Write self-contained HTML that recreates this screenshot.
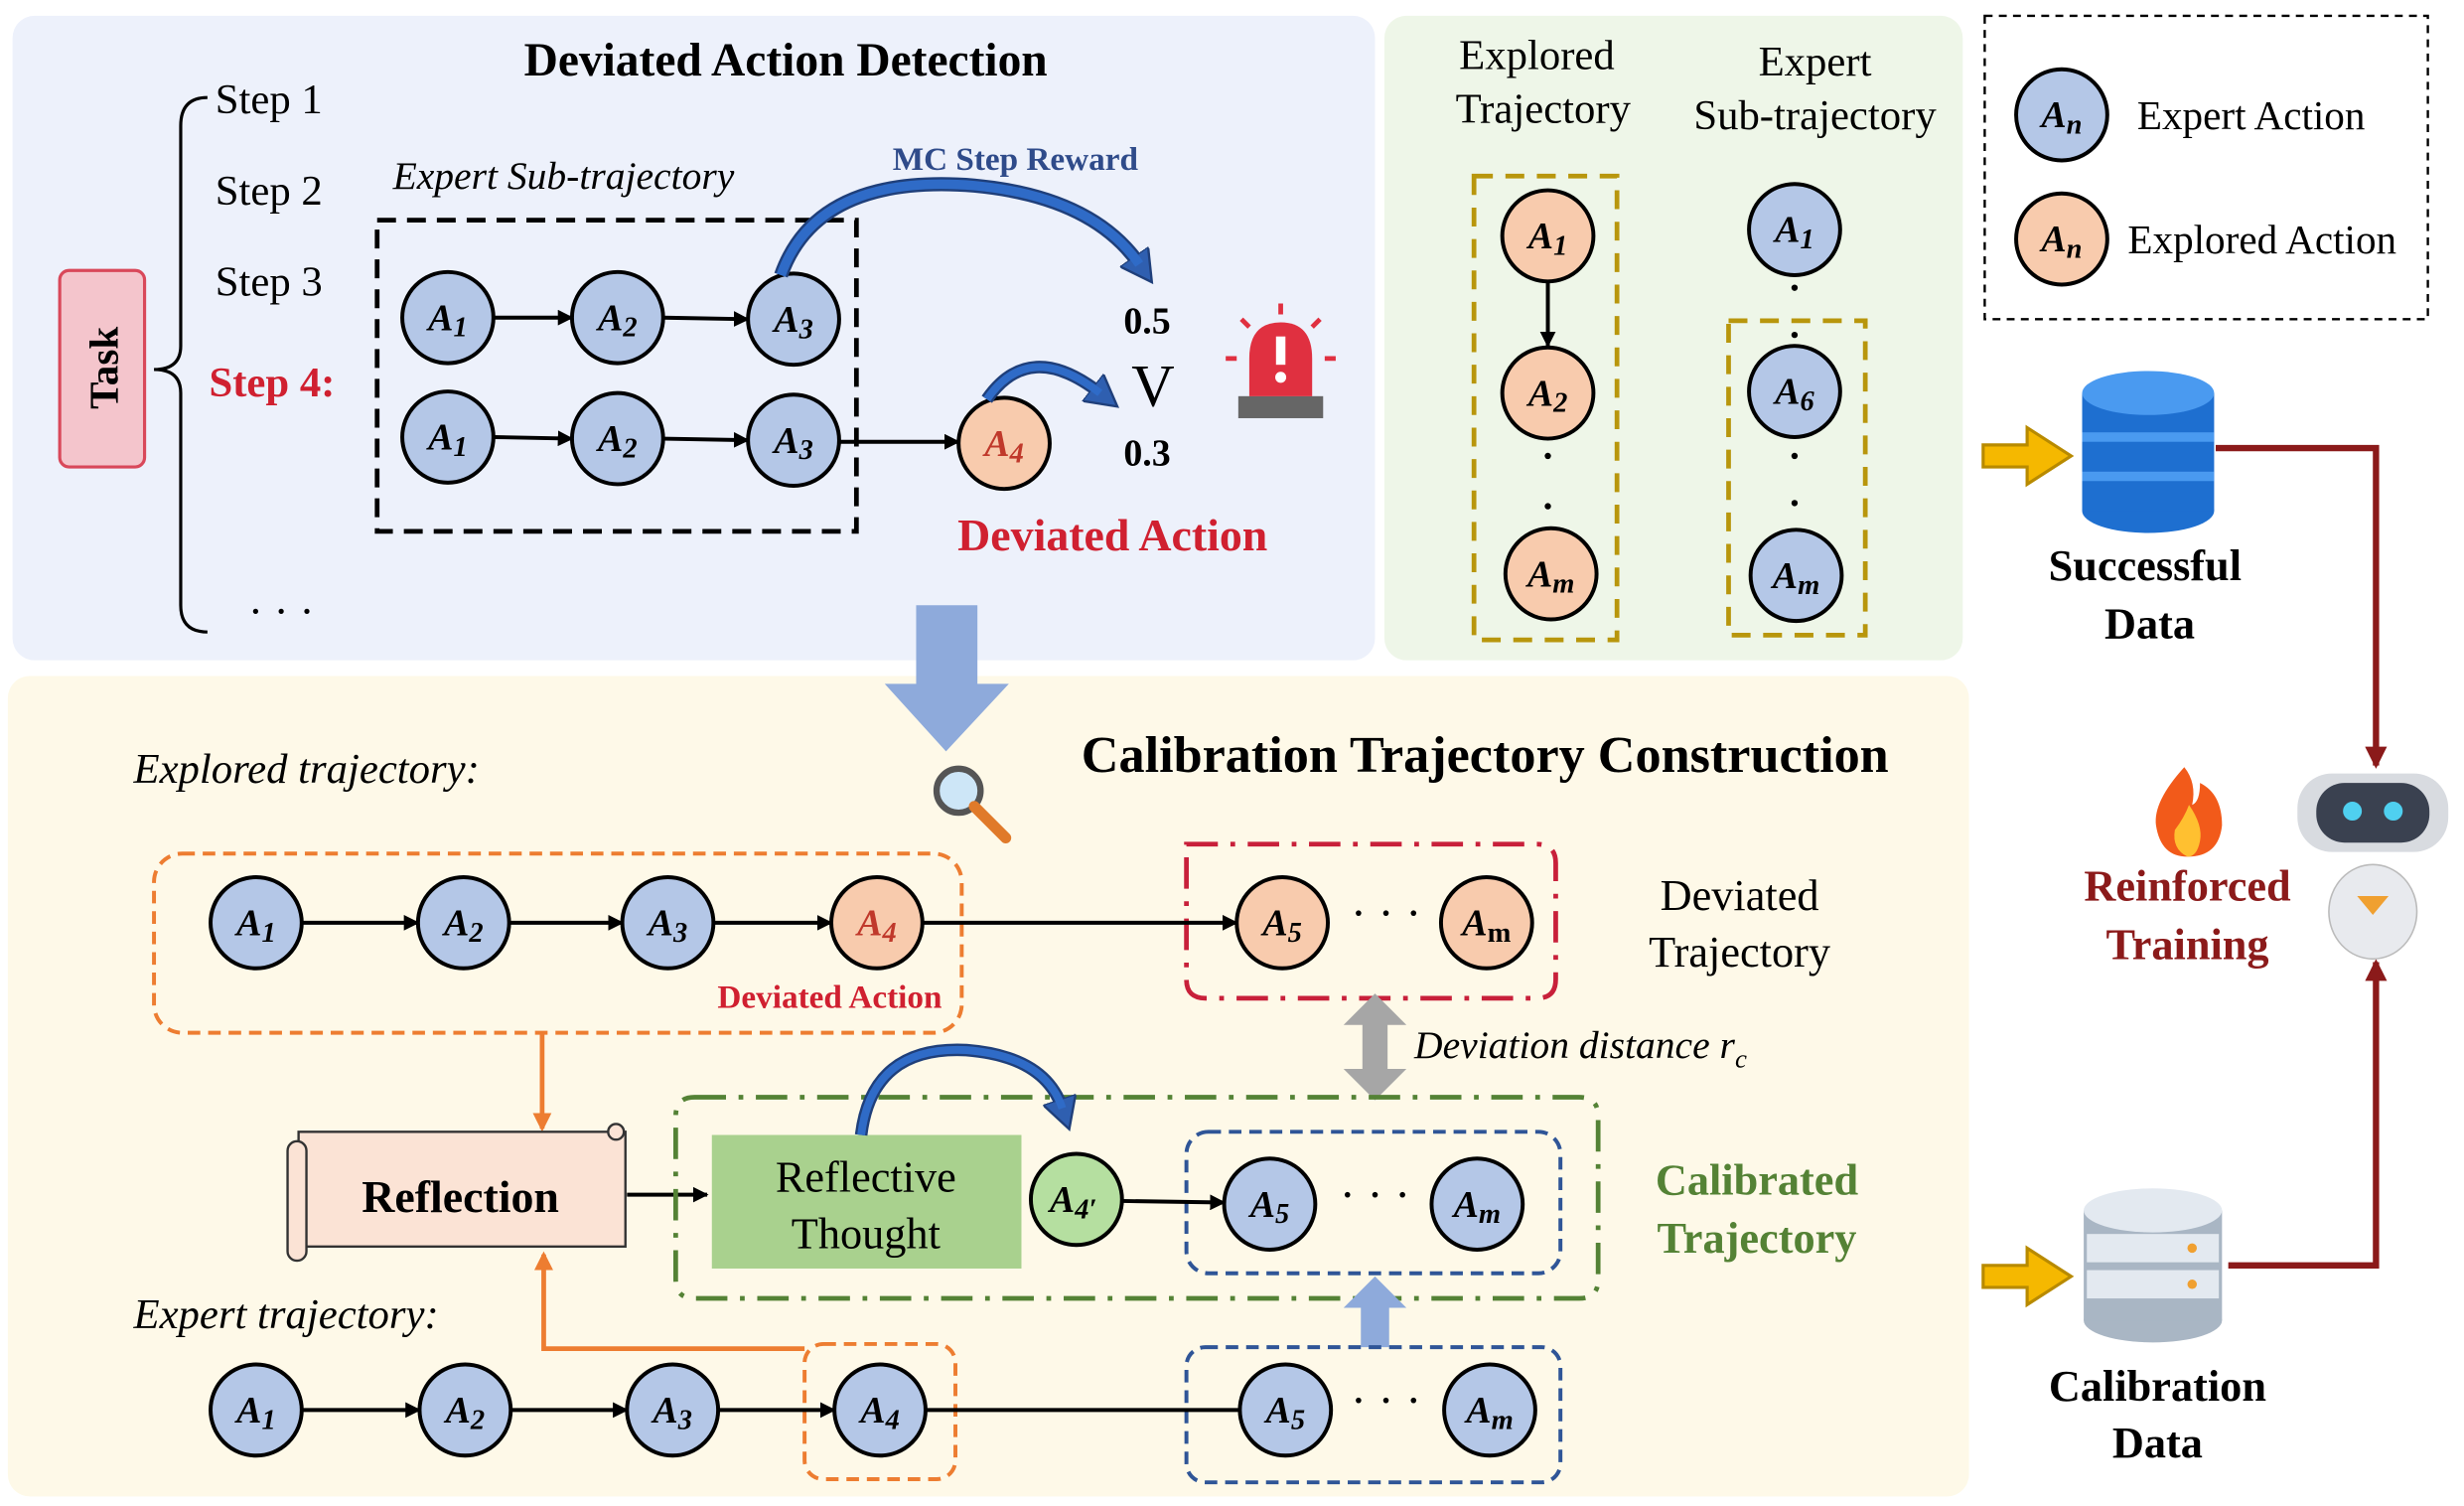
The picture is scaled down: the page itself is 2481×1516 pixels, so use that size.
<!DOCTYPE html>
<html><head><meta charset="utf-8"><style>
html,body{margin:0;padding:0;background:#fff}
svg{display:block}
text{font-family:"Liberation Serif",serif}
.b{fill:#b4c7e7;stroke:#000;stroke-width:2.5}
.o{fill:#f8cbad;stroke:#000;stroke-width:2.5}
.g{fill:#b5dfa0;stroke:#000;stroke-width:2.5}
.n{font-size:24px;font-style:italic;font-weight:bold;text-anchor:middle}
.n tspan{font-size:18px}
.ln{stroke:#000;stroke-width:2.5;fill:none;marker-end:url(#ah)}
</style></head><body>
<svg width="2481" height="1516" viewBox="0 0 1568 958" xmlns="http://www.w3.org/2000/svg">
<defs>
<marker id="ah" markerWidth="10" markerHeight="10" refX="9" refY="5" orient="auto" markerUnits="userSpaceOnUse"><path d="M0,0 L10,5 L0,10 z" fill="#000"/></marker>
<marker id="ahr" markerWidth="14" markerHeight="14" refX="12" refY="7" orient="auto" markerUnits="userSpaceOnUse"><path d="M0,0 L14,7 L0,14 z" fill="#8b1a1a"/></marker>
<marker id="aho" markerWidth="12" markerHeight="12" refX="10" refY="6" orient="auto" markerUnits="userSpaceOnUse"><path d="M0,0 L12,6 L0,12 z" fill="#ed7d31"/></marker>
<marker id="ahb" markerWidth="22" markerHeight="22" refX="6" refY="11" orient="auto" markerUnits="userSpaceOnUse"><path d="M0,0 L20,11 L0,22 z" fill="#2f5fb0" stroke="#1f3f7a" stroke-width="1.5"/></marker>
</defs>
<rect x="8" y="10" width="867" height="410" rx="14" fill="#edf1fb"/>
<rect x="881" y="10" width="368" height="410" rx="14" fill="#eef6e8"/>
<rect x="5" y="430" width="1248" height="522" rx="14" fill="#fef9e8"/>
<rect x="1263" y="10" width="282" height="193" fill="none" stroke="#000" stroke-width="1.5" stroke-dasharray="5,4"/>

<text x="500" y="48" font-size="30" font-weight="bold" text-anchor="middle">Deviated Action Detection</text>
<rect x="38" y="172" width="54" height="125" rx="6" fill="#f4c5cc" stroke="#d9485a" stroke-width="2"/>
<text transform="translate(75,234) rotate(-90)" font-size="26" font-weight="bold" text-anchor="middle">Task</text>
<path d="M132,62 Q115,62 115,80 L115,220 Q115,235 98,235 Q115,235 115,250 L115,385 Q115,402 132,402" fill="none" stroke="#000" stroke-width="2"/>
<text x="137" y="72" font-size="27">Step 1</text>
<text x="137" y="130" font-size="27">Step 2</text>
<text x="137" y="188" font-size="27">Step 3</text>
<text x="133" y="252" font-size="27" font-weight="bold" fill="#d02030">Step 4:</text>
<text x="158" y="398" font-size="28">· · ·</text>
<text x="250" y="120" font-size="25" font-style="italic">Expert Sub-trajectory</text>
<rect x="240" y="140" width="305" height="198" fill="none" stroke="#000" stroke-width="3" stroke-dasharray="12,7"/>
<text x="568" y="108" font-size="21" font-weight="bold" fill="#2f4b8a">MC Step Reward</text>
<line class="ln" x1="314" y1="202" x2="364" y2="202"/><line class="ln" x1="422" y1="202" x2="476" y2="203"/>
<line class="ln" x1="314" y1="278" x2="364" y2="279"/><line class="ln" x1="422" y1="279" x2="476" y2="280"/>
<line class="ln" x1="534" y1="281" x2="610" y2="281"/>
<g class="n">
<circle class="b" cx="285" cy="202" r="29"/><text x="285" y="210">A<tspan dy="4">1</tspan></text>
<circle class="b" cx="393" cy="202" r="29"/><text x="393" y="210">A<tspan dy="4">2</tspan></text>
<circle class="b" cx="505" cy="203" r="29"/><text x="505" y="211">A<tspan dy="4">3</tspan></text>
<circle class="b" cx="285" cy="278" r="29"/><text x="285" y="286">A<tspan dy="4">1</tspan></text>
<circle class="b" cx="393" cy="279" r="29"/><text x="393" y="287">A<tspan dy="4">2</tspan></text>
<circle class="b" cx="505" cy="280" r="29"/><text x="505" y="288">A<tspan dy="4">3</tspan></text>
<circle class="o" cx="639" cy="282" r="29"/><text x="639" y="290" fill="#c0392b">A<tspan dy="4">4</tspan></text>
</g>
<path d="M497,175 Q520,110 620,118 Q695,125 725,168" fill="none" stroke="#1f3f7a" stroke-width="9" marker-end="url(#ahb)"/>
<path d="M497,175 Q520,110 620,118 Q695,125 725,168" fill="none" stroke="#2f6bc7" stroke-width="6"/>
<path d="M628,254 Q655,215 700,250" fill="none" stroke="#1f3f7a" stroke-width="8" marker-end="url(#ahb)"/>
<path d="M628,254 Q655,215 700,250" fill="none" stroke="#2f6bc7" stroke-width="5"/>
<text x="715" y="212" font-size="24" font-weight="bold">0.5</text>
<text x="720" y="258" font-size="38">V</text>
<text x="715" y="296" font-size="24" font-weight="bold">0.3</text>
<rect x="788" y="252" width="54" height="14" fill="#666"/>
<path d="M795,252 L795,228 Q795,205 815,205 Q835,205 835,228 L835,252 Z" fill="#e03040"/>
<rect x="812" y="214" width="6" height="18" fill="#fff"/><circle cx="815" cy="240" r="3.5" fill="#fff"/>
<path d="M815,193 L815,200 M790,203 L795,208 M840,203 L835,208 M780,228 L787,228 M843,228 L850,228" stroke="#e03040" stroke-width="3"/>
<text x="708" y="350" font-size="29" font-weight="bold" text-anchor="middle" fill="#d02030">Deviated Action</text>
<path d="M583,385 L622,385 L622,435 L642,435 L602,478 L563,435 L583,435 Z" fill="#8eaadb"/>
<circle cx="610" cy="503" r="14" fill="#cde6f7" stroke="#555" stroke-width="4"/>
<line x1="620" y1="513" x2="640" y2="533" stroke="#e07a2a" stroke-width="7" stroke-linecap="round"/>

<text x="978" y="44" font-size="27" text-anchor="middle">Explored</text>
<text x="982" y="78" font-size="27" text-anchor="middle">Trajectory</text>
<text x="1155" y="48" font-size="27" text-anchor="middle">Expert</text>
<text x="1155" y="82" font-size="27" text-anchor="middle">Sub-trajectory</text>
<rect x="938" y="112" width="91" height="295" fill="none" stroke="#b8960c" stroke-width="3" stroke-dasharray="12,8"/>
<rect x="1100" y="204" width="87" height="200" fill="none" stroke="#b8960c" stroke-width="3" stroke-dasharray="12,8"/>
<line class="ln" x1="985" y1="179" x2="985" y2="220"/>
<g class="n">
<circle class="o" cx="985" cy="150" r="29"/><text x="985" y="158">A<tspan dy="4">1</tspan></text>
<circle class="o" cx="985" cy="250" r="29"/><text x="985" y="258">A<tspan dy="4">2</tspan></text>
<circle class="o" cx="987" cy="365" r="29"/><text x="987" y="373">A<tspan dy="4">m</tspan></text>
<circle class="b" cx="1142" cy="146" r="29"/><text x="1142" y="154">A<tspan dy="4">1</tspan></text>
<circle class="b" cx="1142" cy="249" r="29"/><text x="1142" y="257">A<tspan dy="4">6</tspan></text>
<circle class="b" cx="1143" cy="366" r="29"/><text x="1143" y="374">A<tspan dy="4">m</tspan></text>
<circle class="b" cx="1312" cy="73" r="29"/><text x="1312" y="81">A<tspan dy="4">n</tspan></text>
<circle class="o" cx="1312" cy="152" r="29"/><text x="1312" y="160">A<tspan dy="4">n</tspan></text>
</g>
<g fill="#000"><circle cx="985" cy="290" r="2"/><circle cx="985" cy="322" r="2"/><circle cx="1142" cy="183" r="2"/><circle cx="1142" cy="213" r="2"/><circle cx="1142" cy="290" r="2"/><circle cx="1142" cy="320" r="2"/></g>
<text x="1360" y="82" font-size="26">Expert Action</text>
<text x="1354" y="161" font-size="26">Explored Action</text>

<path d="M1262,283 L1290,283 L1290,272 L1318,290 L1290,308 L1290,297 L1262,297 Z" fill="#f5b800" stroke="#b88a00" stroke-width="2"/>
<path d="M1262,805 L1290,805 L1290,794 L1318,812 L1290,830 L1290,819 L1262,819 Z" fill="#f5b800" stroke="#b88a00" stroke-width="2"/>
<g fill="#1e6fd0"><ellipse cx="1367" cy="325" rx="42" ry="14"/><rect x="1325" y="250" width="84" height="75"/></g>
<g fill="#4a9af0"><ellipse cx="1367" cy="250" rx="42" ry="14"/><rect x="1325" y="275" width="84" height="6"/><rect x="1325" y="300" width="84" height="6"/></g>
<g fill="#a9b6c4"><ellipse cx="1370" cy="840" rx="44" ry="14"/><rect x="1326" y="770" width="88" height="70"/></g>
<g fill="#e3e9f0"><ellipse cx="1370" cy="770" rx="44" ry="14"/><rect x="1328" y="785" width="84" height="18"/><rect x="1328" y="808" width="84" height="18"/></g>
<g fill="#f0a030"><circle cx="1395" cy="794" r="3"/><circle cx="1395" cy="817" r="3"/></g>
<text x="1365" y="369" font-size="28" font-weight="bold" text-anchor="middle">Successful</text>
<text x="1368" y="406" font-size="28" font-weight="bold" text-anchor="middle">Data</text>
<text x="1373" y="891" font-size="28" font-weight="bold" text-anchor="middle">Calibration</text>
<text x="1373" y="927" font-size="28" font-weight="bold" text-anchor="middle">Data</text>
<path d="M1410,285 L1512,285 L1512,487" fill="none" stroke="#8b1a1a" stroke-width="4" marker-end="url(#ahr)"/>
<path d="M1418,805 L1512,805 L1512,612" fill="none" stroke="#8b1a1a" stroke-width="4" marker-end="url(#ahr)"/>
<ellipse cx="1510" cy="580" rx="28" ry="30" fill="#e8eaee" stroke="#bbb"/>
<path d="M1500,570 L1520,570 L1510,582 Z" fill="#f0a030"/>
<rect x="1462" y="492" width="96" height="50" rx="22" fill="#d8dbe0"/>
<rect x="1474" y="498" width="72" height="38" rx="18" fill="#3a4150"/>
<circle cx="1497" cy="516" r="6" fill="#4fd0f0"/><circle cx="1523" cy="516" r="6" fill="#4fd0f0"/>
<path d="M1390,488 Q1370,510 1372,525 Q1375,545 1392,545 Q1412,545 1414,525 Q1414,505 1400,498 Q1400,510 1395,512 Q1398,498 1390,488 Z" fill="#f25a1a"/>
<path d="M1392,545 Q1382,540 1384,528 Q1390,520 1393,512 Q1402,525 1400,535 Q1398,545 1392,545 Z" fill="#ffc030"/>
<text x="1392" y="573" font-size="28" font-weight="bold" text-anchor="middle" fill="#8b1a1a">Reinforced</text>
<text x="1392" y="610" font-size="28" font-weight="bold" text-anchor="middle" fill="#8b1a1a">Training</text>

<text x="945" y="491" font-size="33" font-weight="bold" text-anchor="middle">Calibration Trajectory Construction</text>
<text x="85" y="498" font-size="27" font-style="italic">Explored trajectory:</text>
<rect x="98" y="543" width="514" height="114" rx="18" fill="none" stroke="#ed7d31" stroke-width="2.5" stroke-dasharray="8,5"/>
<path d="M755,537 H978 Q990,537 990,549 V623 Q990,635 978,635 H767 Q755,635 755,623 Z" fill="none" stroke="#c8203a" stroke-width="3" stroke-dasharray="20,8,3,8"/>
<line class="ln" x1="192" y1="587" x2="266" y2="587"/><line class="ln" x1="324" y1="587" x2="396" y2="587"/><line class="ln" x1="454" y1="587" x2="529" y2="587"/><line class="ln" x1="587" y1="587" x2="787" y2="587"/>
<g class="n">
<circle class="b" cx="163" cy="587" r="29"/><text x="163" y="595">A<tspan dy="4">1</tspan></text>
<circle class="b" cx="295" cy="587" r="29"/><text x="295" y="595">A<tspan dy="4">2</tspan></text>
<circle class="b" cx="425" cy="587" r="29"/><text x="425" y="595">A<tspan dy="4">3</tspan></text>
<circle class="o" cx="558" cy="587" r="29"/><text x="558" y="595" fill="#c0392b">A<tspan dy="4">4</tspan></text>
<circle class="o" cx="816" cy="587" r="29"/><text x="816" y="595">A<tspan dy="4">5</tspan></text>
<circle class="o" cx="946" cy="587" r="29"/><text x="946" y="595">A<tspan dy="4" font-style="normal">m</tspan></text>
</g>
<text x="882" y="591" font-size="30" text-anchor="middle">· · ·</text>
<text x="528" y="641" font-size="21" font-weight="bold" fill="#d02030" text-anchor="middle">Deviated Action</text>
<text x="1107" y="579" font-size="28" text-anchor="middle">Deviated</text>
<text x="1107" y="615" font-size="28" text-anchor="middle">Trajectory</text>
<path d="M875,632 L895,652 L883,652 L883,680 L895,680 L875,700 L855,680 L867,680 L867,652 L855,652 Z" fill="#a6a6a6"/>
<text x="900" y="673" font-size="25" font-style="italic">Deviation distance  <tspan>r</tspan><tspan font-size="17" dy="6">c</tspan></text>
<line x1="345" y1="657" x2="345" y2="718" stroke="#ed7d31" stroke-width="3" marker-end="url(#aho)"/>
<rect x="190" y="720" width="208" height="73" fill="#fbe3d5" stroke="#333" stroke-width="1.5"/>
<rect x="183" y="726" width="12" height="76" rx="6" fill="#fbe3d5" stroke="#333" stroke-width="1.5"/>
<circle cx="392" cy="720" r="5" fill="#fbe3d5" stroke="#333" stroke-width="1.5"/>
<text x="293" y="771" font-size="29" font-weight="bold" text-anchor="middle">Reflection</text>
<line class="ln" x1="399" y1="760" x2="450" y2="760"/>
<path d="M442,698 H1005 Q1017,698 1017,710 V814 Q1017,826 1005,826 H442 Q430,826 430,814 V710 Q430,698 442,698 Z" fill="none" stroke="#548235" stroke-width="3" stroke-dasharray="20,8,3,8"/>
<rect x="453" y="722" width="197" height="85" fill="#a9d18e"/>
<text x="551" y="758" font-size="28" text-anchor="middle">Reflective</text>
<text x="551" y="794" font-size="28" text-anchor="middle">Thought</text>
<path d="M548,722 Q555,665 615,668 Q665,672 676,705" fill="none" stroke="#1f3f7a" stroke-width="8" marker-end="url(#ahb)"/>
<path d="M548,722 Q555,665 615,668 Q665,672 676,705" fill="none" stroke="#2f6bc7" stroke-width="5"/>
<rect x="755" y="720" width="238" height="90" rx="14" fill="none" stroke="#2f5597" stroke-width="2.5" stroke-dasharray="8,5"/>
<line class="ln" x1="714" y1="764" x2="779" y2="765"/>
<g class="n">
<circle class="g" cx="685" cy="763" r="29"/><text x="683" y="771">A<tspan dy="4">4′</tspan></text>
<circle class="b" cx="808" cy="766" r="29"/><text x="808" y="774">A<tspan dy="4">5</tspan></text>
<circle class="b" cx="940" cy="766" r="29"/><text x="940" y="774">A<tspan dy="4">m</tspan></text>
</g>
<text x="875" y="770" font-size="30" text-anchor="middle">· · ·</text>
<text x="1118" y="760" font-size="28" font-weight="bold" fill="#548235" text-anchor="middle">Calibrated</text>
<text x="1118" y="797" font-size="28" font-weight="bold" fill="#548235" text-anchor="middle">Trajectory</text>
<path d="M866,857 L866,832 L855,832 L875,812 L895,832 L884,832 L884,857 Z" fill="#8eaadb"/>
<text x="85" y="845" font-size="27" font-style="italic">Expert trajectory:</text>
<rect x="512" y="855" width="96" height="86" rx="12" fill="none" stroke="#ed7d31" stroke-width="2.5" stroke-dasharray="8,5"/>
<path d="M512,858 L346,858 L346,798" fill="none" stroke="#ed7d31" stroke-width="3" marker-end="url(#aho)"/>
<rect x="755" y="857" width="238" height="86" rx="12" fill="none" stroke="#2f5597" stroke-width="2.5" stroke-dasharray="8,5"/>
<line class="ln" x1="192" y1="897" x2="267" y2="897"/><line class="ln" x1="325" y1="897" x2="399" y2="897"/><line class="ln" x1="457" y1="897" x2="531" y2="897"/><line x1="589" y1="897" x2="789" y2="897" stroke="#000" stroke-width="2.5"/>
<g class="n">
<circle class="b" cx="163" cy="897" r="29"/><text x="163" y="905">A<tspan dy="4">1</tspan></text>
<circle class="b" cx="296" cy="897" r="29"/><text x="296" y="905">A<tspan dy="4">2</tspan></text>
<circle class="b" cx="428" cy="897" r="29"/><text x="428" y="905">A<tspan dy="4">3</tspan></text>
<circle class="b" cx="560" cy="897" r="29"/><text x="560" y="905">A<tspan dy="4">4</tspan></text>
<circle class="b" cx="818" cy="897" r="29"/><text x="818" y="905">A<tspan dy="4">5</tspan></text>
<circle class="b" cx="948" cy="897" r="29"/><text x="948" y="905">A<tspan dy="4">m</tspan></text>
</g>
<text x="882" y="901" font-size="30" text-anchor="middle">· · ·</text>
</svg>
</body></html>
